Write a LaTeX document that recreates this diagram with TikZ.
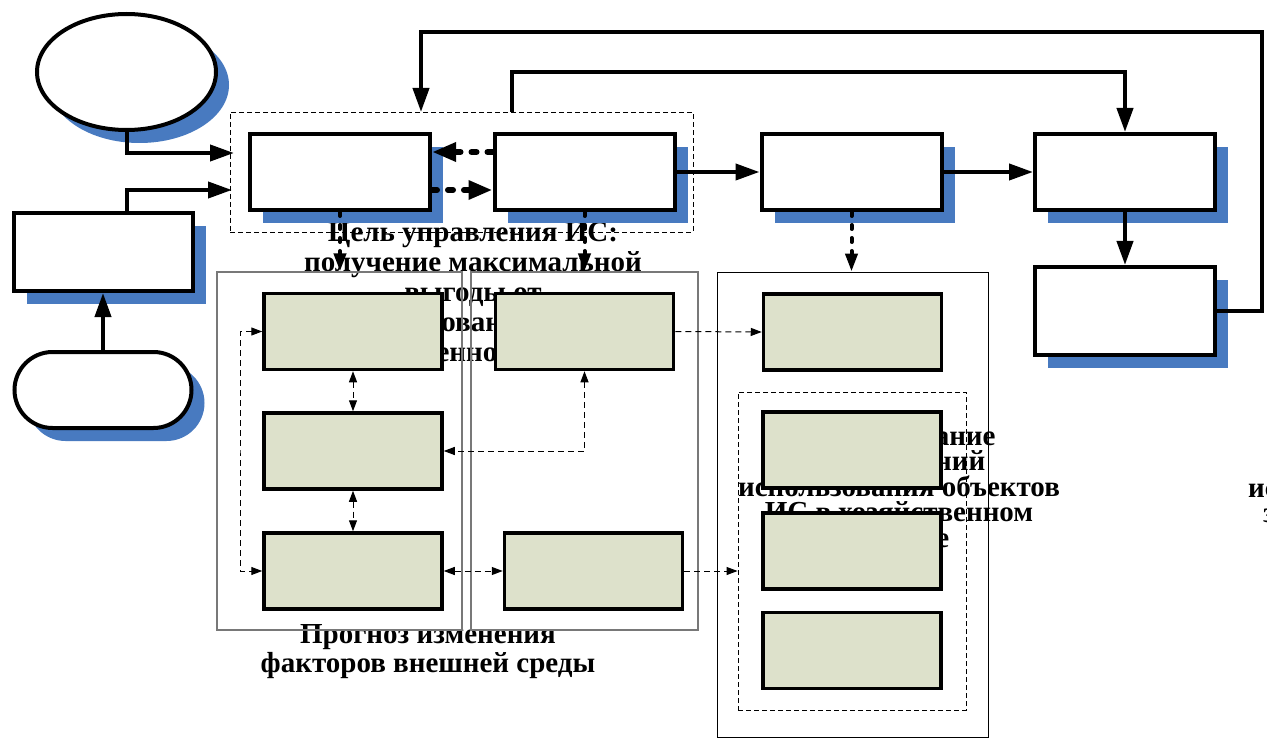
\documentclass[tikz,border=0pt]{standalone}
\usepackage{fontspec}
\setmainfont{Liberation Serif}
\usetikzlibrary{arrows.meta,shadows,shapes.geometric,shapes.misc}
\definecolor{shblue}{RGB}{72,122,192}
\definecolor{boxgreen}{RGB}{221,225,203}
\definecolor{framegray}{RGB}{120,120,120}
\AtBeginDocument{\lineskiplimit=-100pt\relax}
\begin{document}
\begin{tikzpicture}[x=1pt,y=-1pt,
  shad/.style={drop shadow={shadow xshift=13pt,shadow yshift=-13pt,fill=shblue,opacity=1}},
  wbox/.style={shape=rectangle,draw=black,line width=4pt,fill=white,minimum width=180pt,minimum height=76pt,inner sep=0pt,shad},
  gbox/.style={shape=rectangle,draw=black,line width=3.5pt,fill=boxgreen,minimum width=178pt,minimum height=76pt,inner sep=0pt},
  grayframe/.style={shape=rectangle,draw=framegray,line width=1.3pt,inner sep=0pt},
  blackframe/.style={shape=rectangle,draw=black,line width=0.9pt,inner sep=0pt},
  dashframe/.style={shape=rectangle,draw=black,line width=0.9pt,dash pattern=on 5pt off 3pt,inner sep=0pt},
  thickarrow/.style={line width=4pt,-{Triangle[length=24pt,width=16pt]}},
  dotarrow/.style={line width=4pt,line cap=round,dash pattern=on 4pt off 9pt,-{Triangle[length=18pt,width=12pt]}},
  bigdotarrow/.style={line width=6pt,line cap=round,dash pattern=on 5pt off 11pt,-{Triangle[length=24pt,width=18pt]}},
  thinarrow/.style={line width=1pt,dash pattern=on 6pt off 4pt,-{Triangle[length=11pt,width=8pt]}},
  thindouble/.style={line width=1pt,dash pattern=on 6pt off 4pt,{Triangle[length=11pt,width=8pt]}-{Triangle[length=11pt,width=8pt]}},
  txt/.style={font=\fontsize{29pt}{30pt}\selectfont\bfseries,inner sep=0pt,align=center}
]
\useasboundingbox (0,0) rectangle (1267,738);
\fill[white] (0,0) rectangle (1267,738);

% texts (drawn first, partly covered by boxes as in the reference)
\node[txt,anchor=north] (t1) at (473,222) {Цель управления ИС:\\получение максимальной\\выгоды от\\использования ИС в\\хозяйственном обороте};
\node[txt,anchor=north,font=\fontsize{29pt}{25.5pt}\selectfont\bfseries] (t2) at (899,426) {Планирование\\направлений\\использования объектов\\ИС в хозяйственном\\обороте};
\node[txt,anchor=north,font=\fontsize{29pt}{29pt}\selectfont\bfseries] (t3) at (428,624) {Прогноз изменения\\факторов внешней среды};
\node[txt,anchor=base west] (t4a) at (1248,497) {использования объектов};
\node[txt,anchor=base west] (t4b) at (1263,522) {за отчётный период};

% frames
\node[dashframe,minimum width=463pt,minimum height=120pt] (topgrp) at (461.5,172) {};
\node[grayframe,minimum width=245pt,minimum height=358pt] (fL) at (339.5,451) {};
\node[grayframe,minimum width=227pt,minimum height=358pt] (fM) at (584.5,451) {};
\node[blackframe,minimum width=271pt,minimum height=465pt] (fR) at (852.5,504.5) {};
\node[dashframe,minimum width=228pt,minimum height=318pt] (inner) at (852,551) {};

% white boxes with shadows
\node[ellipse,draw=black,line width=4pt,fill=white,minimum width=179pt,minimum height=116pt,inner sep=0pt,shad] (ell) at (126.5,72) {};
\node[wbox,minimum width=179pt,minimum height=78pt] (lrect) at (103,252) {};
\node[rounded rectangle,draw=black,line width=4pt,fill=white,minimum width=177pt,minimum height=76pt,inner sep=0pt,shad] (stad) at (103,390) {};
\node[wbox] (A) at (340,172) {};
\node[wbox] (B) at (584.5,172) {};
\node[wbox] (C) at (851.5,172) {};
\node[wbox] (D) at (1125,172) {};
\node[wbox,minimum height=88pt] (E) at (1125,311) {};

% green boxes
\node[gbox] (GL1) at (353,331.5) {};
\node[gbox] (GL2) at (353,451) {};
\node[gbox] (GL3) at (353,571) {};
\node[gbox] (GM1) at (584.5,331.5) {};
\node[gbox] (GM2) at (593.5,571) {};
\node[gbox] (G1) at (852.5,332) {};
\node[gbox] (G2) at (852,450) {};
\node[gbox] (G3) at (852,551) {};
\node[gbox] (G4) at (852,650.5) {};

% coordinates for free ends
\coordinate (in1) at (234,153);
\coordinate (in2) at (232,190);
\coordinate (r1) at (0,152);
\coordinate (r2) at (0,190);
\coordinate (lp1) at (1262,32);
\coordinate (t1top) at (421,112);
\coordinate (s2) at (512,112);
\coordinate (lp2) at (1125,72);
\coordinate (ll) at (240,451);

% thick connectors
\draw[thickarrow] (ell.south) |- (in1);
\draw[thickarrow] (lrect.north -| ell.south) |- (in2);
\draw[thickarrow] (stad.north) -- (lrect.south);
\draw[thickarrow] (B.east) -- (C.west);
\draw[thickarrow] (C.east) -- (D.west);
\draw[thickarrow] (D.south) -- (E.north);
\draw[thickarrow] (E.east) -| (lp1) -| (t1top);
\draw[thickarrow] (s2) |- (lp2) -- (D.north);

% dotted connectors
\draw[bigdotarrow] (B.west |- r1) -- (A.east |- r1);
\draw[bigdotarrow] (A.east |- r2) -- (B.west |- r2);
\draw[dotarrow] (A.south) -- (A.south |- fL.north);
\draw[dotarrow] (B.south) -- (B.south |- fM.north);
\draw[dotarrow] (C.south) -- (C.south |- fR.north);

% thin dashed connectors
\draw[thindouble] (GL1.south) -- (GL2.north);
\draw[thindouble] (GL2.south) -- (GL3.north);
\draw[thindouble] (GL1.west) -| (ll) |- (GL3.west);
\draw[thindouble] (GM1.south) |- (GL2.east);
\draw[thindouble] (GL3.east) -- (GM2.west);
\draw[thinarrow] (GM1.east) -- (G1.west);
\draw[thinarrow] (GM2.east) -- (GM2.east -| inner.west);
\end{tikzpicture}
\end{document}
